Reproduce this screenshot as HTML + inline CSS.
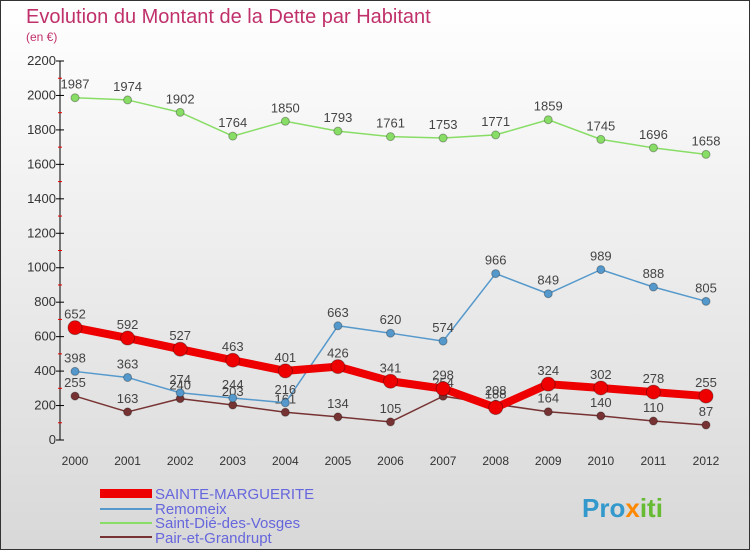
<!DOCTYPE html>
<html><head><meta charset="utf-8"><style>
body{margin:0}
#c{width:750px;height:550px;position:relative;overflow:hidden;font-family:"Liberation Sans",sans-serif}
</style></head><body>
<div id="c">
<svg id="s" width="750" height="550" xmlns="http://www.w3.org/2000/svg">
<defs><linearGradient id="bg" x1="0" y1="0" x2="0" y2="1"><stop offset="0" stop-color="#ffffff"/><stop offset="1" stop-color="#d8d8d8"/></linearGradient></defs>
<rect x="0.5" y="0.5" width="749" height="549" fill="url(#bg)" stroke="#333"/>
<text x="26" y="23" font-size="20" fill="#c0306a">Evolution du Montant de la Dette par Habitant</text>
<text x="26" y="41" font-size="12" fill="#c0306a">(en €)</text>
<g id="axes"></g><g id="series"></g>
<g>
<rect x="100" y="489" width="52" height="9" fill="#ee0000"/>
<text x="155" y="499" font-size="15" fill="#6666dd">SAINTE-MARGUERITE</text>
<line x1="100" y1="509" x2="152" y2="509" stroke="#5599cc" stroke-width="2"/>
<text x="155" y="514" font-size="15" fill="#6666dd">Remomeix</text>
<line x1="100" y1="523" x2="152" y2="523" stroke="#88dd66" stroke-width="2"/>
<text x="155" y="528" font-size="15" fill="#6666dd">Saint-Dié-des-Vosges</text>
<line x1="100" y1="537" x2="152" y2="537" stroke="#773333" stroke-width="2"/>
<text x="155" y="543" font-size="15" fill="#6666dd">Pair-et-Grandrupt</text>
</g>
<text x="582" y="517" font-size="26" font-weight="bold" fill="#3399cc">Pro<tspan fill="#ff8800">x</tspan><tspan fill="#66bb33">iti</tspan></text>
</svg>
</div>
<script>
const years=[2000,2001,2002,2003,2004,2005,2006,2007,2008,2009,2010,2011,2012];
const yTicks=[0,200,400,600,800,1000,1200,1400,1600,1800,2000,2200];
const sainte=[652,592,527,463,401,426,341,298,188,324,302,278,255];
const remomeix=[398,363,274,244,216,663,620,574,966,849,989,888,805];
const saintDie=[1987,1974,1902,1764,1850,1793,1761,1753,1771,1859,1745,1696,1658];
const pair=[255,163,240,203,161,134,105,254,208,164,140,110,87];
const NS="http://www.w3.org/2000/svg";
const X=i=>75+i*(706-75)/(years.length-1);
const Y=v=>440-v*(440-61)/2200;
function mk(t,a,p){const e=document.createElementNS(NS,t);for(const k in a)e.setAttribute(k,a[k]);p.appendChild(e);return e;}
const ax=document.getElementById('axes'),sg=document.getElementById('series');
const yl=mk('line',{x1:60,y1:61,x2:60,y2:440,stroke:'#000'},ax);


yTicks.forEach(v=>{mk('line',{x1:56,y1:Y(v),x2:64,y2:Y(v),stroke:'#000'},ax);
 if(v<2200)mk('line',{x1:58,y1:Y(v+100),x2:62,y2:Y(v+100),stroke:'#e00'},ax);
 const t=mk('text',{x:56,y:Y(v)+4,'font-size':13,'text-anchor':'end',fill:'#333'},ax);t.textContent=v;
 
 });
years.forEach((y,i)=>{
 const t=mk('text',{x:X(i),y:465,'font-size':12,'text-anchor':'middle',fill:'#333'},ax);t.textContent=y;
 
 });
function series(d,col,w,r,name){const g=mk('g',{},sg);
 
 
 mk('polyline',{points:d.map((v,i)=>X(i)+','+Y(v)).join(' '),fill:'none',stroke:col,'stroke-width':w,'stroke-linejoin':'round'},g);
 d.forEach((v,i)=>{mk('circle',{cx:X(i),cy:Y(v),r:r,fill:col,stroke:'rgba(0,0,0,0.3)'},g);
  const t=mk('text',{x:X(i),y:Y(v)-9,'font-size':13,'text-anchor':'middle',fill:'#444'},g);t.textContent=v;});}
series(pair,'#773333',1.5,4,'series-pair');
series(saintDie,'#88dd66',1.5,4,'series-saint-die');
series(remomeix,'#5599cc',1.5,4,'series-remomeix');
series(sainte,'#ee0000',8,7,'series-sainte');
</script>
</body></html>
